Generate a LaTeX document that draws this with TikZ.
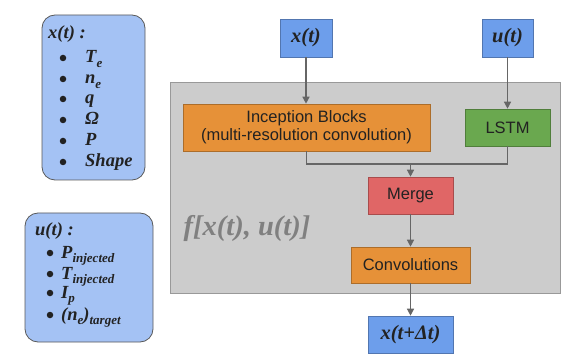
\documentclass[tikz,border=0pt]{standalone}
\usepackage{fontspec}
\setmainfont{Liberation Serif}
\newfontfamily\arialf{Liberation Sans}
\usetikzlibrary{arrows.meta}
\definecolor{inblue}{HTML}{6D9EEB}
\definecolor{ltblue}{HTML}{A4C2F4}
\definecolor{grayfill}{HTML}{CCCCCC}
\definecolor{grayline}{HTML}{999999}
\definecolor{orangef}{HTML}{E69138}
\definecolor{greenf}{HTML}{6AA84F}
\definecolor{redf}{HTML}{E06666}
\definecolor{arrowc}{HTML}{666666}
\definecolor{txtc}{HTML}{222222}
\newcommand\mysub[1]{\raisebox{-4.5pt}{\fontsize{13}{13}\selectfont #1}}
\begin{document}
\begin{tikzpicture}[x=1pt,y=-1pt,
  blk/.style={draw=#1!75!black, fill=#1, line width=0.6pt, inner sep=0pt,
    text=txtc, font=\arialf\fontsize{16.5}{18}\selectfont, align=center},
  varbox/.style={draw=inblue!75!black, fill=inblue, line width=0.6pt, inner sep=0pt,
    text=txtc, font=\bfseries\itshape\fontsize{20.5}{24}\selectfont},
  listbox/.style={draw=black!65, fill=ltblue, line width=0.8pt, rounded corners=13pt},
  listtxt/.style={anchor=base west, inner sep=0pt, text=txtc,
    font=\bfseries\itshape\fontsize{18.5}{20}\selectfont},
  dot/.style={circle, fill=txtc, inner sep=0pt, minimum size=6.5pt},
  conn/.style={draw=arrowc, line width=1.3pt},
  arr/.style={conn, -{Triangle[length=7pt,width=7pt]}}
]
\useasboundingbox (0,0) rectangle (562,358);

% left boxes
\draw[listbox] (42,15) rectangle (145,180);
\node[listtxt] (xtitle) at (48,39) {x(t) :};
\node[dot] (xd1) at (63,58) {};
\node[dot] (xd2) at (63,79) {};
\node[dot] (xd3) at (63,99) {};
\node[dot] (xd4) at (63,120) {};
\node[dot] (xd5) at (63,141) {};
\node[dot] (xd6) at (63,162) {};
\node[listtxt] (xi1) at (85,63) {T\mysub{e}};
\node[listtxt] (xi2) at (85,84) {n\mysub{e}};
\node[listtxt] (xi3) at (85,104) {q};
\node[listtxt] (xi4) at (85,125) {Ω};
\node[listtxt] (xi5) at (85,146) {P};
\node[listtxt] (xi6) at (85,167) {Shape};

\draw[listbox] (25,213) rectangle (153,342);
\node[listtxt] (utitle) at (35,236) {u(t) :};
\node[dot] (ud1) at (50,253) {};
\node[dot] (ud2) at (50,274) {};
\node[dot] (ud3) at (50,293) {};
\node[dot] (ud4) at (50,315) {};
\node[listtxt] (ui1) at (61,258) {P\mysub{injected}};
\node[listtxt] (ui2) at (61,279) {T\mysub{injected}};
\node[listtxt] (ui3) at (61,298) {I\mysub{p}};
\node[listtxt] (ui4) at (61,320) {(n\mysub{e})\mysub{target}};

% gray container
\draw[fill=grayfill, draw=grayline, line width=0.8pt] (170,82) rectangle (560,293);
\node[text=black!50, font=\bfseries\itshape\fontsize{28.5}{30}\selectfont, inner sep=0pt] (flabel) at (247,228) {f[x(t), u(t)]};

% blocks
\node[varbox, minimum width=52pt, minimum height=38pt] (xt) at (306,38) {x(t)};
\node[varbox, minimum width=51pt, minimum height=38pt] (ut) at (507.5,38) {u(t)};
\node[blk=orangef, minimum width=247pt, minimum height=47pt] (incep) at (306.5,127.5) {Inception Blocks\\(multi-resolution convolution)};
\node[blk=greenf, minimum width=85pt, minimum height=37pt] (lstm) at (507.5,127.5) {LSTM};
\node[blk=redf, minimum width=85pt, minimum height=37pt] (merge) at (410.5,195.5) {Merge};
\node[blk=orangef, minimum width=119pt, minimum height=36pt] (conv) at (410.5,265) {Convolutions};
\node[varbox, minimum width=85pt, minimum height=37pt] (out) at (410.5,334.5) {x(t+Δt)};

% connectors
\coordinate (jn) at (410.5,164);
\draw[arr] (xt.south) -- (incep.north -| xt.south);
\draw[arr] (ut.south) -- (lstm.north);
\draw[conn] (incep.south) |- (jn) -| (lstm.south);
\draw[arr] (jn) -- (merge.north);
\draw[arr] (merge.south) -- (conv.north);
\draw[arr] (conv.south) -- (out.north);
\end{tikzpicture}
\end{document}
